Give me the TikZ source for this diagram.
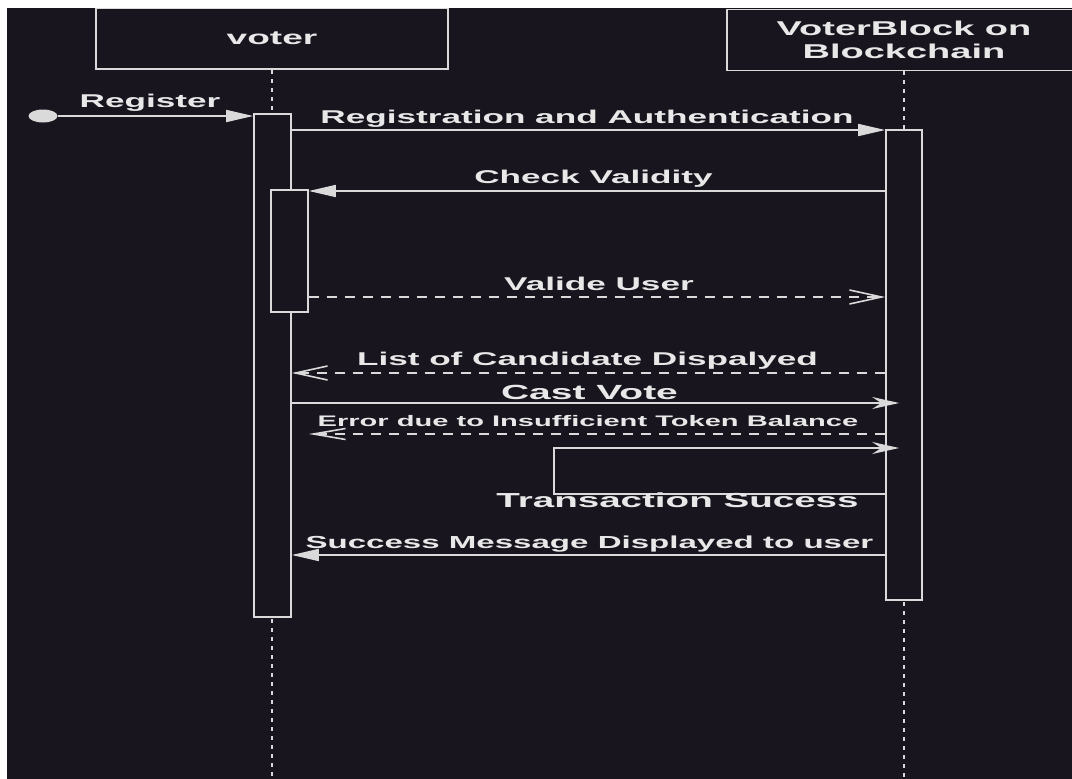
\documentclass[tikz,border=0pt]{standalone}
\usepackage{fontspec}
\newfontfamily\lblfont{Liberation Sans}[FakeStretch=1.9]
\usetikzlibrary{arrows.meta,positioning,shapes.geometric}
\definecolor{bgdark}{RGB}{24,21,30}
\definecolor{ink}{RGB}{218,218,218}
\definecolor{txt}{RGB}{232,232,232}
\newcommand{\lblsize}[1]{\lblfont\bfseries\fontsize{#1}{23}\selectfont}

\begin{document}
\begin{tikzpicture}[x=1pt,y=-1pt,line width=1.6pt,
  lbl/.style={text=txt,inner sep=0pt,anchor=base,font=\lblsize{18.5}},
  head/.style={draw=ink,fill=bgdark,text=txt,align=center,inner sep=0pt,font=\lblsize{20}},
  bar/.style={draw=ink,fill=bgdark,inner sep=0pt},
  msg/.style={draw=ink},
  reply/.style={draw=ink,dash pattern=on 10pt off 8pt},
  life/.style={draw=ink,line width=2pt,dash pattern=on 4pt off 5pt},
  solidtip/.style={-{Triangle[length=27pt,width=12pt]}},
  opentip/.style={-{Straight Barb[length=32pt,width=14pt]}},
  classictip/.style={-{Stealth[length=27pt,width=12pt,inset=9pt]},shorten >=-14pt}]
  \useasboundingbox (0,0) rectangle (1072,779);
  \fill[bgdark] (0,0) rectangle (1072,779);

  \node[head,minimum width=352pt,minimum height=61pt,font=\lblsize{19.5}] (voterbox) at (272,38.5) {voter};
  \node[head,minimum width=354pt,minimum height=61pt] (chainbox) at (904,40) {VoterBlock on\\Blockchain};
  \coordinate (voterend) at (272,782);
  \coordinate (chainend) at (904,782);
  \draw[life] (voterbox.south) -- (voterend);
  \draw[life] (chainbox.south) -- (chainend);

  \node[bar,minimum width=37pt,minimum height=503pt] (voterbar) at (272.5,365.5) {};
  \node[bar,minimum width=36pt,minimum height=470pt] (chainbar) at (904,365) {};
  \node[bar,minimum width=37pt,minimum height=122pt] (checkbar) at (289.5,251) {};

  \node[ellipse,fill=ink,inner sep=0pt,minimum width=29pt,minimum height=13pt] (start) at (43,116) {};
  \draw[msg,solidtip] (start) -- (voterbar.west |- start);
  \node[lbl] (register) at (150,107) {Register};

  \draw[msg,solidtip] (voterbar.east |- 0,130) -- (chainbar.west |- 0,130);
  \node[lbl] (regauth) at (587,123) {Registration and Authentication};

  \draw[msg,solidtip] (chainbar.west |- 0,191) -- (checkbar.east |- 0,191);
  \node[lbl] (check) at (593.5,183) {Check Validity};

  \draw[reply,opentip] (checkbar.east |- 0,297) -- (chainbar.west |- 0,297);
  \node[lbl] (valid) at (599,290) {Valide User};

  \draw[reply,opentip] (chainbar.west |- 0,373) -- (voterbar.east |- 0,373);
  \node[lbl] (cands) at (587.5,365) {List of Candidate Dispalyed};

  \draw[msg,classictip] (voterbar.east |- 0,403) -- (chainbar.west |- 0,403);
  \node[lbl,font=\lblsize{20.5}] (cast) at (589.5,399) {Cast Vote};

  \draw[reply,-{Straight Barb[length=32pt,width=11pt]}] (chainbar.west |- 0,434) -- (checkbar.east |- 0,434);
  \node[lbl,font=\lblsize{15.3}] (error) at (588,426) {Error due to Insufficient Token Balance};

  \coordinate (selfturn) at (554,448);
  \draw[msg,classictip] (chainbar.west |- 0,494) -| (selfturn) -- (chainbar.west |- selfturn);
  \node[lbl,font=\lblsize{20.3}] (txok) at (677.5,507) {Transaction Sucess};

  \draw[msg,solidtip] (chainbar.west |- 0,555) -- (voterbar.east |- 0,555);
  \node[lbl,font=\lblsize{17.4}] (success) at (589.5,548) {Success Message Displayed to user};

  \fill[white] (0,0) rectangle (1072,8);
  \fill[white] (0,0) rectangle (7,779);
\end{tikzpicture}
\end{document}
